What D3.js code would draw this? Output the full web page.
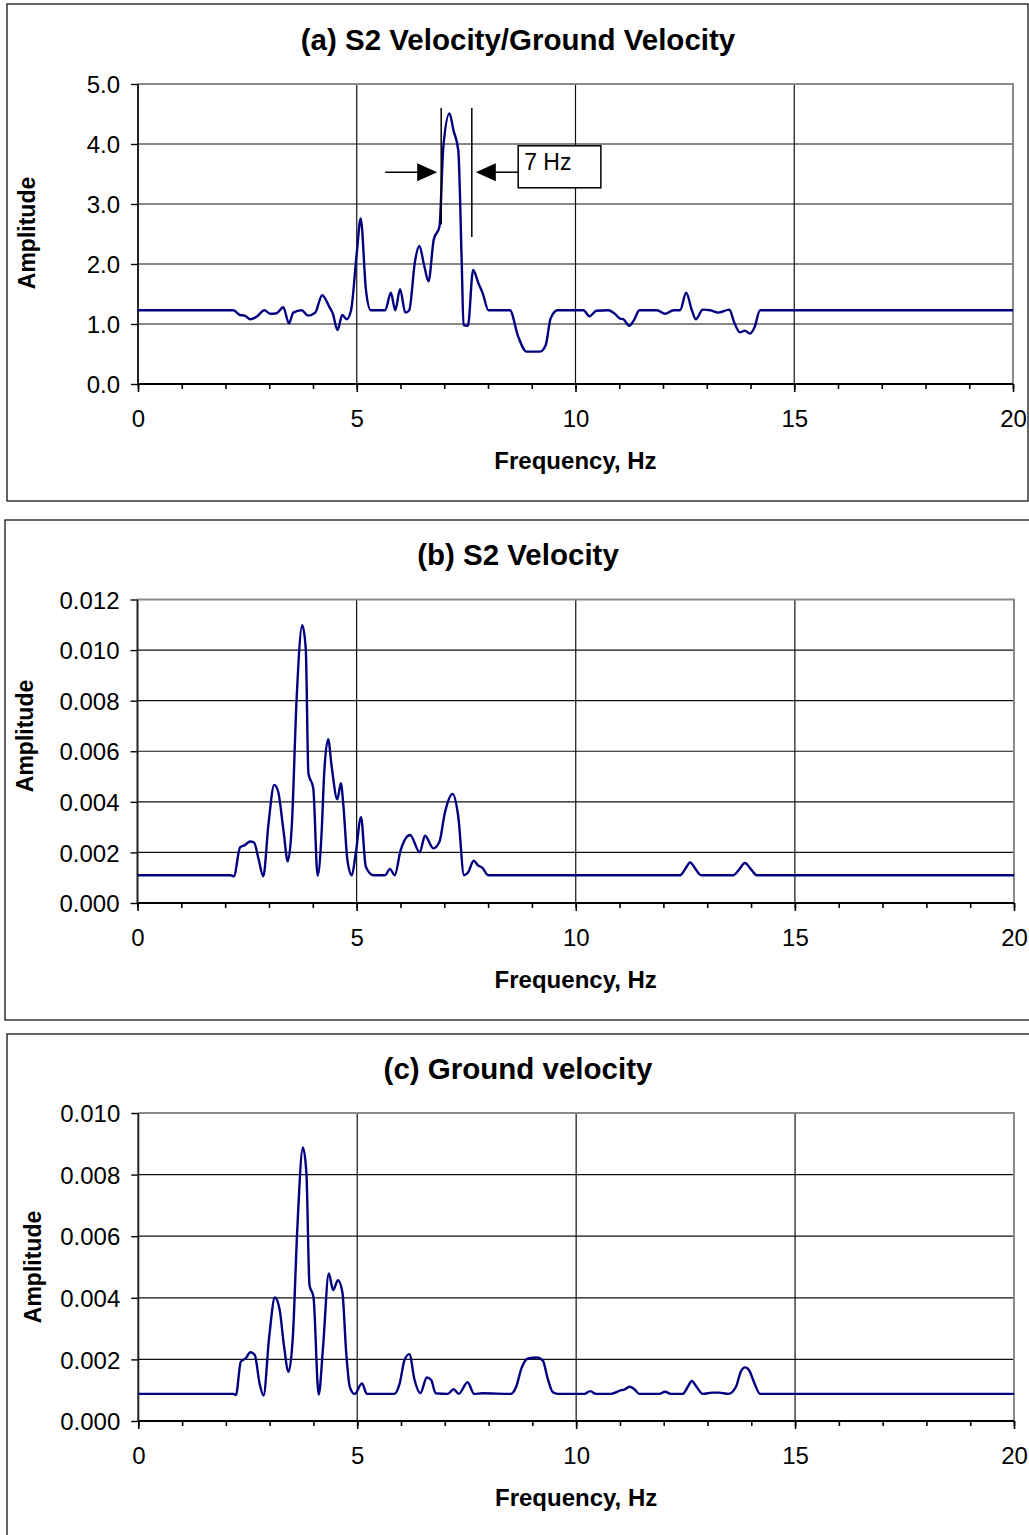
<!DOCTYPE html>
<html lang="en">
<head>
<meta charset="UTF-8">
<title>S2 velocity spectra</title>
<script src="https://d3js.org/d3.v7.min.js"></script>
<style>
  body { margin:0; background:#fff; }
  text { font-family: "Liberation Sans", Arial, sans-serif; }
</style>
</head>
<body>
<script>
// ---- data ----
var freqTicks = [0, 5, 10, 15, 20];

// (a) S2 velocity / ground velocity
var titleA = "(a) S2 Velocity/Ground Velocity";
var ampTicksA = [0, 1, 2, 3, 4, 5];
var freqA = [0, 2.18, 2.33, 2.44, 2.56, 2.71, 2.89, 3.02, 3.17, 3.32, 3.45, 3.55, 3.74, 3.89, 4.05, 4.21, 4.37, 4.45, 4.56, 4.67,
  4.77, 4.87, 5.0, 5.09, 5.21, 5.32, 5.65, 5.78, 5.88, 5.99, 6.11, 6.20, 6.33, 6.43, 6.54, 6.64, 6.76, 6.89, 6.98, 7.12,
  7.21, 7.32, 7.40, 7.44, 7.54, 7.66, 7.78, 7.88, 8.01, 8.50, 8.69, 8.88, 9.19, 9.32, 9.43, 9.59, 10.18, 10.32, 10.48, 10.75,
  10.90, 11.02, 11.09, 11.23, 11.34, 11.46, 11.86, 12.05, 12.24, 12.39, 12.53, 12.66, 12.75, 12.91, 13.08, 13.26, 13.52, 13.62, 13.76, 13.87,
  13.99, 14.09, 14.22, 20];
var ampA = [1.23, 1.23, 1.15, 1.14, 1.08, 1.12, 1.23, 1.17, 1.18, 1.28, 1.01, 1.19, 1.23, 1.14, 1.19, 1.48, 1.29, 1.18, 0.90, 1.15,
  1.08, 1.23, 2.18, 2.76, 1.57, 1.23, 1.23, 1.52, 1.23, 1.58, 1.19, 1.23, 2.04, 2.30, 1.98, 1.71, 2.41, 2.62, 3.96, 4.51,
  4.23, 3.90, 2.01, 0.98, 0.97, 1.90, 1.68, 1.51, 1.23, 1.23, 0.79, 0.54, 0.54, 0.65, 1.09, 1.23, 1.23, 1.13, 1.22, 1.23,
  1.17, 1.09, 1.08, 0.97, 1.07, 1.23, 1.23, 1.17, 1.23, 1.23, 1.52, 1.23, 1.08, 1.24, 1.23, 1.19, 1.24, 1.04, 0.86, 0.89,
  0.84, 0.94, 1.23, 1.23];
// annotation: band edges (Hz) and label
var bandEdges = [6.93, 7.63];
var bandLabel = "7 Hz";

// (b) S2 velocity
var titleB = "(b) S2 Velocity";
var ampTicksB = [0, 0.002, 0.004, 0.006, 0.008, 0.010, 0.012];
var freqB = [0, 2.11, 2.20, 2.34, 2.45, 2.57, 2.66, 2.76, 2.87, 2.99, 3.12, 3.21, 3.33, 3.43, 3.52, 3.63, 3.76, 3.84, 3.90, 4.01,
  4.11, 4.20, 4.26, 4.35, 4.43, 4.56, 4.64, 4.70, 4.79, 4.89, 4.98, 5.10, 5.21, 5.38, 5.65, 5.76, 5.87, 6.00, 6.22, 6.44,
  6.56, 6.75, 6.89, 7.01, 7.19, 7.32, 7.45, 7.55, 7.67, 7.77, 7.87, 8.00, 12.38, 12.50, 12.61, 12.73, 12.86, 13.60, 13.73, 13.86,
  14.00, 14.13, 20];
var ampB = [0.00110, 0.00110, 0.00106, 0.00220, 0.00229, 0.00243, 0.00239, 0.00176, 0.00106, 0.00315, 0.00467, 0.00440, 0.00288, 0.00165, 0.00302, 0.00804, 0.01098, 0.01003, 0.00513, 0.00454,
  0.00108, 0.00275, 0.00513, 0.00648, 0.00540, 0.00410, 0.00474, 0.00381, 0.00169, 0.00110, 0.00196, 0.00339, 0.00143, 0.00110, 0.00110, 0.00135, 0.00110, 0.00206, 0.00269, 0.00200,
  0.00266, 0.00216, 0.00242, 0.00354, 0.00431, 0.00341, 0.00110, 0.00123, 0.00167, 0.00149, 0.00139, 0.00110, 0.00110, 0.00135, 0.00160, 0.00135, 0.00110, 0.00110, 0.00133, 0.00158,
  0.00133, 0.00110, 0.00110];

// (c) ground velocity
var titleC = "(c) Ground velocity";
var ampTicksC = [0, 0.002, 0.004, 0.006, 0.008, 0.010];
var freqC = [0, 2.17, 2.23, 2.34, 2.45, 2.56, 2.66, 2.77, 2.86, 2.99, 3.12, 3.23, 3.33, 3.43, 3.53, 3.63, 3.76, 3.84, 3.91, 4.00,
  4.12, 4.22, 4.35, 4.45, 4.56, 4.66, 4.75, 4.83, 4.94, 5.11, 5.22, 5.85, 5.97, 6.08, 6.19, 6.31, 6.44, 6.59, 6.69, 6.79,
  7.07, 7.20, 7.32, 7.52, 7.67, 7.86, 8.51, 8.63, 8.75, 8.90, 9.12, 9.24, 9.35, 9.47, 9.58, 10.19, 10.32, 10.45, 10.80, 11.03,
  11.10, 11.22, 11.33, 11.44, 11.90, 12.03, 12.17, 12.43, 12.55, 12.64, 12.75, 12.89, 13.11, 13.26, 13.48, 13.65, 13.76, 13.86, 13.95, 14.06,
  14.20, 20];
var ampC = [0.00088, 0.00088, 0.00084, 0.00192, 0.00203, 0.00223, 0.00214, 0.00122, 0.00083, 0.00274, 0.00401, 0.00360, 0.00241, 0.00160, 0.00274, 0.00619, 0.00888, 0.00803, 0.00441, 0.00403,
  0.00086, 0.00241, 0.00479, 0.00425, 0.00457, 0.00419, 0.00219, 0.00111, 0.00088, 0.00122, 0.00088, 0.00088, 0.00122, 0.00198, 0.00217, 0.00133, 0.00090, 0.00141, 0.00133, 0.00090,
  0.00088, 0.00103, 0.00088, 0.00126, 0.00088, 0.00090, 0.00088, 0.00111, 0.00171, 0.00203, 0.00206, 0.00196, 0.00138, 0.00093, 0.00088, 0.00088, 0.00097, 0.00088, 0.00088, 0.00100,
  0.00102, 0.00111, 0.00103, 0.00088, 0.00088, 0.00095, 0.00088, 0.00088, 0.00111, 0.00130, 0.00111, 0.00088, 0.00092, 0.00092, 0.00088, 0.00111, 0.00160, 0.00174, 0.00165, 0.00127,
  0.00088, 0.00088];

// ---- layout ----
var W = 1029, H = 1535;
var svg = d3.select('body').append('svg').attr('width', W).attr('height', H);

var panels = [
  {title: titleA, freq: freqA, amp: ampA, ticks: ampTicksA, fmt: '.1f',
   box: {x: 7, y: 4, w: 1021, h: 497}, plot: {l: 138, r: 1013, t: 84, b: 384},
   titleY: 50, ampX: 35, ampY: 233},
  {title: titleB, freq: freqB, amp: ampB, ticks: ampTicksB, fmt: '.3f',
   box: {x: 5, y: 520, w: 1030, h: 500}, plot: {l: 137.5, r: 1014, t: 599.5, b: 903},
   titleY: 565, ampX: 33, ampY: 736},
  {title: titleC, freq: freqC, amp: ampC, ticks: ampTicksC, fmt: '.3f',
   box: {x: 7, y: 1034, w: 1030, h: 520}, plot: {l: 138.3, r: 1014, t: 1113, b: 1421},
   titleY: 1079, ampX: 41, ampY: 1267}
];

panels.forEach(function (p, k) {
  var g = svg.append('g');

  g.append('rect')
    .attr('x', p.box.x).attr('y', p.box.y)
    .attr('width', p.box.w).attr('height', p.box.h)
    .attr('fill', '#fff').attr('stroke', '#000').attr('stroke-width', 1.2);

  var x = d3.scaleLinear().domain([0, 20]).range([p.plot.l, p.plot.r]);
  var y = d3.scaleLinear().domain([0, d3.max(p.ticks)]).range([p.plot.b, p.plot.t]);

  // horizontal grid
  g.selectAll('.hgrid').data(p.ticks.slice(1, -1)).enter().append('line')
    .attr('x1', p.plot.l).attr('x2', p.plot.r)
    .attr('y1', function (d) { return y(d); }).attr('y2', function (d) { return y(d); })
    .attr('stroke', '#111').attr('stroke-width', 1.2);
  // vertical grid
  g.selectAll('.vgrid').data(freqTicks.slice(1, -1)).enter().append('line')
    .attr('y1', p.plot.t).attr('y2', p.plot.b)
    .attr('x1', function (d) { return x(d); }).attr('x2', function (d) { return x(d); })
    .attr('stroke', '#111').attr('stroke-width', 1.2);

  // plot frame top/right (grey)
  g.append('path')
    .attr('d', 'M' + p.plot.l + ',' + p.plot.t + 'H' + p.plot.r + 'V' + p.plot.b)
    .attr('fill', 'none').attr('stroke', '#8a8a8a').attr('stroke-width', 2);

  // x axis: minor and major ticks
  var xMinor = g.append('g').attr('transform', 'translate(0,' + p.plot.b + ')')
    .call(d3.axisBottom(x).tickValues(d3.range(0, 21, 1)).tickSize(5).tickFormat(''));
  var xAxis = g.append('g').attr('transform', 'translate(0,' + p.plot.b + ')')
    .call(d3.axisBottom(x).tickValues(freqTicks).tickSize(8).tickFormat(d3.format('d')));
  [xMinor, xAxis].forEach(function (a) {
    a.select('.domain').remove();
    a.selectAll('line').attr('stroke', '#000').attr('stroke-width', 1.6);
  });
  xAxis.selectAll('text')
    .attr('y', 43).attr('dy', 0)
    .attr('font-size', 24).attr('fill', '#000')
    .style('font-family', '"Liberation Sans", Arial, sans-serif');

  // y axis
  var yAxis = g.append('g').attr('transform', 'translate(' + p.plot.l + ',0)')
    .call(d3.axisLeft(y).tickValues(p.ticks).tickSize(7).tickPadding(11).tickFormat(d3.format(p.fmt)));
  yAxis.select('.domain').remove();
  yAxis.selectAll('line').attr('stroke', '#000').attr('stroke-width', 1.4);
  yAxis.selectAll('text')
    .attr('dy', '0.36em')
    .attr('font-size', 24).attr('fill', '#000')
    .style('font-family', '"Liberation Sans", Arial, sans-serif');

  // axis lines
  g.append('line').attr('x1', p.plot.l).attr('x2', p.plot.l).attr('y1', p.plot.t).attr('y2', p.plot.b)
    .attr('stroke', '#222').attr('stroke-width', 2);
  g.append('line').attr('x1', p.plot.l).attr('x2', p.plot.r).attr('y1', p.plot.b).attr('y2', p.plot.b)
    .attr('stroke', '#000').attr('stroke-width', 2);

  // series
  var pts = p.freq.map(function (f, i) { return [f, p.amp[i]]; });
  var line = d3.line()
    .x(function (d) { return x(d[0]); })
    .y(function (d) { return y(d[1]); })
    .curve(d3.curveMonotoneX);
  g.append('path').datum(pts)
    .attr('d', line)
    .attr('fill', 'none').attr('stroke', '#000080').attr('stroke-width', 2.4)
    .attr('stroke-linejoin', 'round');

  // titles
  g.append('text').text(p.title)
    .attr('x', 518).attr('y', p.titleY)
    .attr('text-anchor', 'middle').attr('font-size', 29.5).attr('font-weight', 'bold');
  g.append('text').text('Frequency, Hz')
    .attr('x', (p.plot.l + p.plot.r) / 2).attr('y', p.plot.b + 85)
    .attr('text-anchor', 'middle').attr('font-size', 24).attr('font-weight', 'bold');
  g.append('text').text('Amplitude')
    .attr('transform', 'translate(' + p.ampX + ',' + p.ampY + ') rotate(-90)')
    .attr('text-anchor', 'middle').attr('font-size', 23).attr('font-weight', 'bold');

  // band annotation on panel (a)
  if (k === 0) {
    var ann = g.append('g');
    ann.append('line')
      .attr('x1', x(bandEdges[0])).attr('x2', x(bandEdges[0]))
      .attr('y1', y(4.6)).attr('y2', y(2.66))
      .attr('stroke', '#000').attr('stroke-width', 1.5);
    ann.append('line')
      .attr('x1', x(bandEdges[1])).attr('x2', x(bandEdges[1]))
      .attr('y1', y(4.6)).attr('y2', y(2.45))
      .attr('stroke', '#000').attr('stroke-width', 1.5);
    var ay = y(3.53);
    // left arrow pointing right
    ann.append('line').attr('x1', x(5.65)).attr('x2', x(6.5)).attr('y1', ay).attr('y2', ay)
      .attr('stroke', '#000').attr('stroke-width', 1.5);
    ann.append('path')
      .attr('d', 'M' + (x(bandEdges[0]) - 4) + ',' + ay + 'L' + (x(bandEdges[0]) - 24) + ',' + (ay - 9) + 'L' + (x(bandEdges[0]) - 24) + ',' + (ay + 9) + 'Z')
      .attr('fill', '#000');
    // right arrow pointing left
    ann.append('line').attr('x1', x(bandEdges[1]) + 20).attr('x2', x(8.69)).attr('y1', ay).attr('y2', ay)
      .attr('stroke', '#000').attr('stroke-width', 1.5);
    ann.append('path')
      .attr('d', 'M' + (x(bandEdges[1]) + 4) + ',' + ay + 'L' + (x(bandEdges[1]) + 24) + ',' + (ay - 9) + 'L' + (x(bandEdges[1]) + 24) + ',' + (ay + 9) + 'Z')
      .attr('fill', '#000');
    // label box
    ann.append('rect')
      .attr('x', x(8.69)).attr('y', y(3.97))
      .attr('width', x(10.58) - x(8.69)).attr('height', y(3.27) - y(3.97))
      .attr('fill', '#fff').attr('stroke', '#000').attr('stroke-width', 1.5);
    ann.append('text').text(bandLabel)
      .attr('x', x(8.69) + 6).attr('y', y(3.97) + 24)
      .attr('font-size', 23);
  }
});
</script>
</body>
</html>
